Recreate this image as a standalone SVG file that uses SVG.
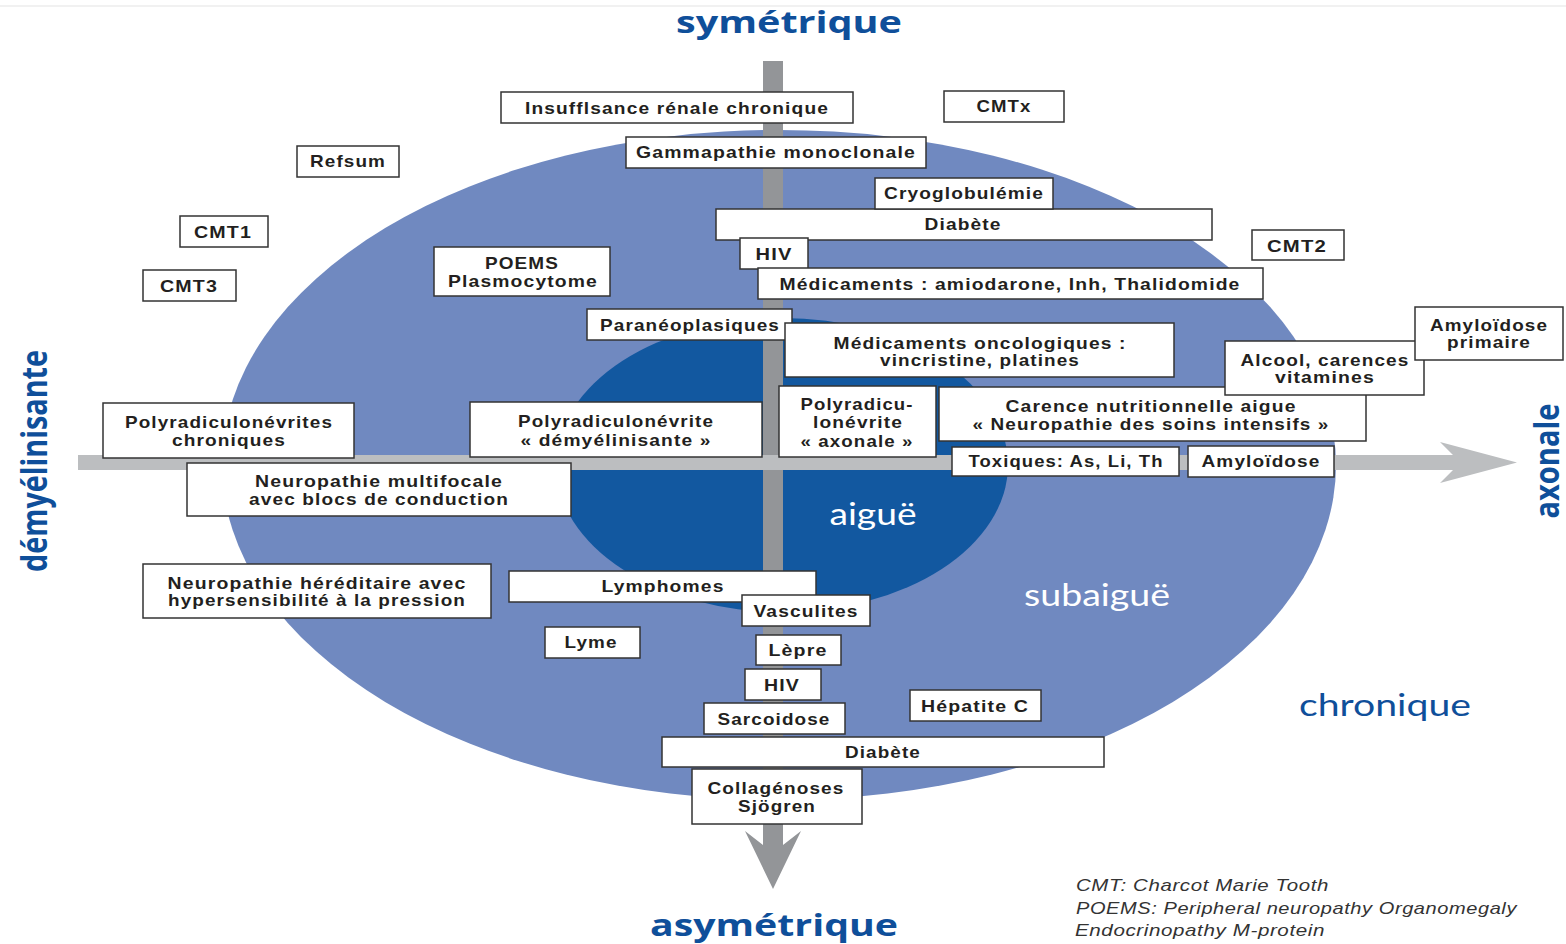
<svg xmlns="http://www.w3.org/2000/svg" width="1566" height="944" viewBox="0 0 1566 944">
<style>
.box rect{fill:#ffffff;stroke:#333333;stroke-width:1.5}
.box text{font-family:"Liberation Sans",Arial,sans-serif;font-weight:bold;font-size:17px;letter-spacing:1px;fill:#231f20;text-anchor:middle}
.title{font-family:"Open Sans","DejaVu Sans",sans-serif;font-weight:bold;fill:#0f4f9a;text-anchor:middle}
.zone{font-family:Lato,"Open Sans",sans-serif;font-size:30px;text-anchor:middle}
.note{font-family:"Liberation Sans",Arial,sans-serif;font-style:italic;font-size:17px;letter-spacing:0.5px;fill:#333333}
</style>
<rect width="1566" height="944" fill="#ffffff"/>
<line x1="0" y1="6" x2="1566" y2="6" stroke="#ececec" stroke-width="1.5"/>
<g id="zones">
<ellipse cx="779" cy="465" rx="557" ry="335" fill="#7089c0"/>
<ellipse cx="782" cy="465" rx="226" ry="147" fill="#1258a0"/>
</g>
<g id="connectors">
<path d="M763,61 L783,61 L783,845 L801,831 L773,889 L745,831 L763,845 Z" fill="#939598"/>
<path d="M78,455 L1453,455 L1440,442 L1517,462.5 L1440,483 L1453,470 L78,470 Z" fill="#bcbec0"/>
</g>
<g id="labels">
<text class="title" x="789" y="33" font-size="30" textLength="226" lengthAdjust="spacingAndGlyphs">symétrique</text>
<text class="title" x="774" y="936" font-size="30" textLength="248" lengthAdjust="spacingAndGlyphs">asymétrique</text>
<text class="title" transform="translate(47,461) rotate(-90)" font-size="36" textLength="222" lengthAdjust="spacingAndGlyphs">démyélinisante</text>
<text class="title" transform="translate(1559,461) rotate(-90)" font-size="34" textLength="115" lengthAdjust="spacingAndGlyphs">axonale</text>
<text class="zone" x="873" y="525" fill="#ffffff" textLength="87" lengthAdjust="spacingAndGlyphs">aiguë</text>
<text class="zone" x="1097" y="606" fill="#ffffff" textLength="146" lengthAdjust="spacingAndGlyphs">subaiguë</text>
<text class="zone" x="1385" y="716" fill="#0f4f9a" textLength="172" lengthAdjust="spacingAndGlyphs">chronique</text>
<text class="note" x="1076" y="891" textLength="253" lengthAdjust="spacingAndGlyphs">CMT: Charcot Marie Tooth</text>
<text class="note" x="1076" y="914" textLength="441" lengthAdjust="spacingAndGlyphs">POEMS: Peripheral neuropathy Organomegaly</text>
<text class="note" x="1075" y="936" textLength="250" lengthAdjust="spacingAndGlyphs">Endocrinopathy M-protein</text>
</g>
<g id="n-insuffisance" class="box"><rect x="501" y="92" width="352" height="31"/><text x="677" y="114" textLength="304" lengthAdjust="spacingAndGlyphs">Insufflsance rénale chronique</text></g>
<g id="n-cmtx" class="box"><rect x="944" y="91" width="120" height="31"/><text x="1004" y="112" textLength="55" lengthAdjust="spacingAndGlyphs">CMTx</text></g>
<g id="n-refsum" class="box"><rect x="297" y="146" width="102" height="31"/><text x="348" y="167" textLength="76" lengthAdjust="spacingAndGlyphs">Refsum</text></g>
<g id="n-gammapathie" class="box"><rect x="626" y="137" width="300" height="31"/><text x="776" y="158" textLength="280" lengthAdjust="spacingAndGlyphs">Gammapathie monoclonale</text></g>
<g id="n-diabete1" class="box"><rect x="716" y="209" width="496" height="31"/><text x="963" y="230" textLength="77" lengthAdjust="spacingAndGlyphs">Diabète</text></g>
<g id="n-cryo" class="box"><rect x="875" y="178" width="178" height="31"/><text x="964" y="199" textLength="160" lengthAdjust="spacingAndGlyphs">Cryoglobulémie</text></g>
<g id="n-cmt1" class="box"><rect x="180" y="216" width="88" height="31"/><text x="223" y="238" textLength="58" lengthAdjust="spacingAndGlyphs">CMT1</text></g>
<g id="n-cmt2" class="box"><rect x="1252" y="230" width="92" height="30"/><text x="1297" y="252" textLength="60" lengthAdjust="spacingAndGlyphs">CMT2</text></g>
<g id="n-hiv1" class="box"><rect x="740" y="238" width="68" height="31"/><text x="774" y="260" textLength="37" lengthAdjust="spacingAndGlyphs">HIV</text></g>
<g id="n-poems" class="box"><rect x="434" y="247" width="176" height="49"/><text x="522" y="269" textLength="74" lengthAdjust="spacingAndGlyphs">POEMS</text><text x="523" y="287" textLength="150" lengthAdjust="spacingAndGlyphs">Plasmocytome</text></g>
<g id="n-medicaments" class="box"><rect x="758" y="268" width="505" height="31"/><text x="1010" y="290" textLength="461" lengthAdjust="spacingAndGlyphs">Médicaments : amiodarone, Inh, Thalidomide</text></g>
<g id="n-cmt3" class="box"><rect x="143" y="270" width="93" height="31"/><text x="189" y="292" textLength="58" lengthAdjust="spacingAndGlyphs">CMT3</text></g>
<g id="n-paraneo" class="box"><rect x="587" y="309" width="205" height="31"/><text x="690" y="331" textLength="180" lengthAdjust="spacingAndGlyphs">Paranéoplasiques</text></g>
<g id="n-onco" class="box"><rect x="785" y="323" width="389" height="54"/><text x="980" y="349" textLength="293" lengthAdjust="spacingAndGlyphs">Médicaments oncologiques :</text><text x="980" y="366" textLength="200" lengthAdjust="spacingAndGlyphs">vincristine, platines</text></g>
<g id="n-carence" class="box"><rect x="939" y="387" width="427" height="54"/><text x="1151" y="412" textLength="291" lengthAdjust="spacingAndGlyphs">Carence nutritionnelle aigue</text><text x="1151" y="430" textLength="357" lengthAdjust="spacingAndGlyphs">« Neuropathie des soins intensifs »</text></g>
<g id="n-alcool" class="box"><rect x="1225" y="341" width="199" height="54"/><text x="1325" y="366" textLength="169" lengthAdjust="spacingAndGlyphs">Alcool, carences</text><text x="1325" y="383" textLength="100" lengthAdjust="spacingAndGlyphs">vitamines</text></g>
<g id="n-amylo-primaire" class="box"><rect x="1415" y="307" width="148" height="53"/><text x="1489" y="331" textLength="118" lengthAdjust="spacingAndGlyphs">Amyloïdose</text><text x="1489" y="348" textLength="84" lengthAdjust="spacingAndGlyphs">primaire</text></g>
<g id="n-prn-chroniques" class="box"><rect x="103" y="403" width="251" height="55"/><text x="229" y="428" textLength="208" lengthAdjust="spacingAndGlyphs">Polyradiculonévrites</text><text x="229" y="446" textLength="114" lengthAdjust="spacingAndGlyphs">chroniques</text></g>
<g id="n-prn-demyel" class="box"><rect x="470" y="402" width="292" height="55"/><text x="616" y="427" textLength="196" lengthAdjust="spacingAndGlyphs">Polyradiculonévrite</text><text x="616" y="446" textLength="191" lengthAdjust="spacingAndGlyphs">« démyélinisante »</text></g>
<g id="n-prn-axonale" class="box"><rect x="779" y="386" width="157" height="71"/><text x="857" y="410" textLength="113" lengthAdjust="spacingAndGlyphs">Polyradicu-</text><text x="858" y="428" textLength="90" lengthAdjust="spacingAndGlyphs">lonévrite</text><text x="857" y="447" textLength="113" lengthAdjust="spacingAndGlyphs">« axonale »</text></g>
<g id="n-toxiques" class="box"><rect x="952" y="447" width="227" height="29"/><text x="1066" y="467" textLength="195" lengthAdjust="spacingAndGlyphs">Toxiques: As, Li, Th</text></g>
<g id="n-amylo" class="box"><rect x="1188" y="446" width="146" height="31"/><text x="1261" y="467" textLength="119" lengthAdjust="spacingAndGlyphs">Amyloïdose</text></g>
<g id="n-multifocale" class="box"><rect x="187" y="463" width="384" height="53"/><text x="379" y="487" textLength="248" lengthAdjust="spacingAndGlyphs">Neuropathie multifocale</text><text x="379" y="505" textLength="260" lengthAdjust="spacingAndGlyphs">avec blocs de conduction</text></g>
<g id="n-hereditaire" class="box"><rect x="143" y="564" width="348" height="54"/><text x="317" y="589" textLength="299" lengthAdjust="spacingAndGlyphs">Neuropathie héréditaire avec</text><text x="317" y="606" textLength="298" lengthAdjust="spacingAndGlyphs">hypersensibilité à la pression</text></g>
<g id="n-lymphomes" class="box"><rect x="509" y="571" width="307" height="31"/><text x="663" y="592" textLength="123" lengthAdjust="spacingAndGlyphs">Lymphomes</text></g>
<g id="n-vasculites" class="box"><rect x="742" y="595" width="128" height="31"/><text x="806" y="617" textLength="105" lengthAdjust="spacingAndGlyphs">Vasculites</text></g>
<g id="n-lyme" class="box"><rect x="545" y="627" width="95" height="31"/><text x="591" y="648" textLength="53" lengthAdjust="spacingAndGlyphs">Lyme</text></g>
<g id="n-lepre" class="box"><rect x="756" y="635" width="85" height="30"/><text x="798" y="656" textLength="59" lengthAdjust="spacingAndGlyphs">Lèpre</text></g>
<g id="n-hiv2" class="box"><rect x="745" y="669" width="76" height="31"/><text x="782" y="691" textLength="36" lengthAdjust="spacingAndGlyphs">HIV</text></g>
<g id="n-sarcoidose" class="box"><rect x="704" y="703" width="141" height="31"/><text x="774" y="725" textLength="113" lengthAdjust="spacingAndGlyphs">Sarcoidose</text></g>
<g id="n-hepatite" class="box"><rect x="910" y="690" width="131" height="31"/><text x="975" y="712" textLength="108" lengthAdjust="spacingAndGlyphs">Hépatite C</text></g>
<g id="n-diabete2" class="box"><rect x="662" y="737" width="442" height="30"/><text x="883" y="758" textLength="76" lengthAdjust="spacingAndGlyphs">Diabète</text></g>
<g id="n-collagenoses" class="box"><rect x="692" y="769" width="170" height="55"/><text x="776" y="794" textLength="137" lengthAdjust="spacingAndGlyphs">Collagénoses</text><text x="777" y="812" textLength="78" lengthAdjust="spacingAndGlyphs">Sjögren</text></g>
</svg>
